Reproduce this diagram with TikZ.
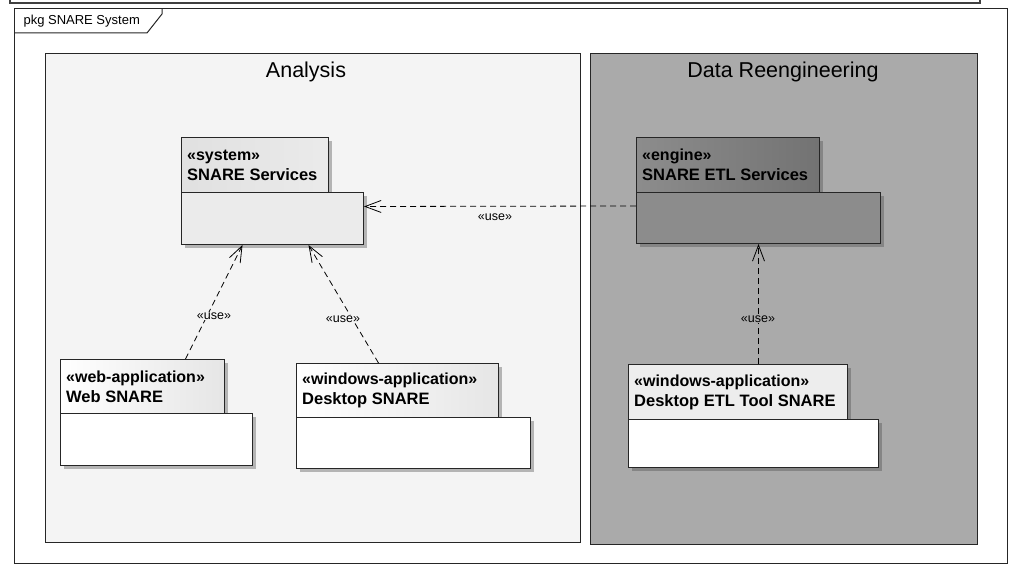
\documentclass[tikz,border=0pt]{standalone}
\usepackage{fontspec}
\setmainfont{Liberation Sans}
\usetikzlibrary{arrows.meta}
\definecolor{analysisbg}{HTML}{F4F4F4}
\definecolor{reengbg}{HTML}{AAAAAA}
\definecolor{shadowgray}{HTML}{B4B4B4}
\tikzset{
  frameline/.style={draw=black!85, line width=1pt},
  comptab/.style={frameline, anchor=north west, inner sep=0pt, minimum height=55},
  compbody/.style={frameline, anchor=north west, inner sep=0pt},
  compshadow/.style={fill=shadowgray, draw=none},
  comptext/.style={anchor=west, align=left, inner sep=0pt, font=\fontsize{16.5}{20}\selectfont\bfseries},
  usedep/.style={line width=0.8pt, dash pattern=on 6pt off 4pt, -{Straight Barb[length=16pt,width=12pt]}},
  uselabel/.style={inner sep=1pt, font=\fontsize{12.5}{12.5}\selectfont}
}
\newcommand{\stereo}[1]{{\fontsize{16}{20}\selectfont\guillemotleft #1\guillemotright}}
\begin{document}
\begin{tikzpicture}[x=1pt,y=-1pt]
\useasboundingbox (0,0) rectangle (1013,577);
\draw[line width=1.2pt, black!75] (10,0) -- (10,3) -- (980,3) -- (980,0);
% package frame
\draw[frameline] (14,9) rectangle (1007,563);
\draw[frameline] (14,33) -- (147,33) -- (162,14) -- (162,9);
\node[anchor=west, font=\fontsize{13}{13}\selectfont] (pkgname) at (20,21) {pkg SNARE System};
% subsystems
\node[frameline, fill=analysisbg, anchor=north west, minimum width=535, minimum height=489] (analysis) at (45,53) {};
\node[anchor=base, font=\fontsize{21.5}{22}\selectfont] (analysistitle) at (306,78) {Analysis};
\node[frameline, fill=reengbg, anchor=north west, minimum width=387, minimum height=491] (reeng) at (590,53) {};
\node[anchor=base, font=\fontsize{21.5}{22}\selectfont] (reengtitle) at (783,78) {Data Reengineering};

% SNARE Services
\fill[compshadow] (185,141) rectangle (332,196);
\fill[compshadow] (185,196) rectangle (367,248);
\node[comptab, left color=black!12, right color=black!8, minimum width=147] (systab) at (181,137) {};
\node[compbody, fill=black!8, minimum width=182, minimum height=52] (sysbody) at (181,192) {};
\node[comptext] (systext) at ([xshift=6pt]systab.west) {\stereo{system}\\SNARE Services};

% SNARE ETL Services
\fill[compshadow, black!48] (640,141) rectangle (823,196);
\fill[compshadow, black!48] (640,196) rectangle (884,247);
\node[comptab, left color=black!45, right color=black!55, minimum width=183] (engtab) at (636,137) {};
\node[compbody, fill=black!45, minimum width=244, minimum height=51] (engbody) at (636,192) {};
\node[comptext] (engtext) at ([xshift=6pt]engtab.west) {\stereo{engine}\\SNARE ETL Services};

% Web SNARE
\fill[compshadow] (64,363) rectangle (228,417);
\fill[compshadow] (64,417) rectangle (256,469);
\node[comptab, left color=white, right color=black!10, minimum width=164, minimum height=54] (webtab) at (60,359) {};
\node[compbody, fill=white, minimum width=192, minimum height=52] (webbody) at (60,413) {};
\node[comptext] (webtext) at ([xshift=6pt]webtab.west) {\stereo{web-application}\\Web SNARE};

% Desktop SNARE
\fill[compshadow] (300,367) rectangle (502,421);
\fill[compshadow] (300,421) rectangle (534,472);
\node[comptab, left color=white, right color=black!10, minimum width=202, minimum height=54] (desktab) at (296,363) {};
\node[compbody, fill=white, minimum width=234, minimum height=51] (deskbody) at (296,417) {};
\node[comptext] (desktext) at ([xshift=6pt]desktab.west) {\stereo{windows-application}\\Desktop SNARE};

% Desktop ETL Tool SNARE
\fill[compshadow, black!48] (632,368) rectangle (851,423);
\fill[compshadow, black!48] (632,423) rectangle (882,471);
\node[comptab, fill=black!7, minimum width=219] (etltab) at (628,364) {};
\node[compbody, fill=white, minimum width=250, minimum height=48] (etlbody) at (628,419) {};
\node[comptext] (etltext) at ([xshift=6pt]etltab.west) {\stereo{windows-application}\\Desktop ETL Tool SNARE};

% dependencies
\draw[usedep] ([xshift=43pt]webtab.north) -- ([xshift=-30pt]sysbody.south);
\draw[usedep] ([xshift=-19pt]desktab.north) -- ([xshift=36pt]sysbody.south);
\draw[usedep] ([yshift=12pt]engbody.west) -- ([yshift=12pt]sysbody.east);
\draw[usedep] ([xshift=20.5pt]etltab.north) -- (engbody.south);
\node[uselabel, fill=analysisbg] (useweb) at (214,316) {\guillemotleft use\guillemotright};
\node[uselabel, fill=analysisbg] (usedesk) at (343,319) {\guillemotleft use\guillemotright};
\node[uselabel] (useeng) at (495,217) {\guillemotleft use\guillemotright};
\node[uselabel, fill=reengbg] (useetl) at (758,319) {\guillemotleft use\guillemotright};
\end{tikzpicture}
\end{document}
